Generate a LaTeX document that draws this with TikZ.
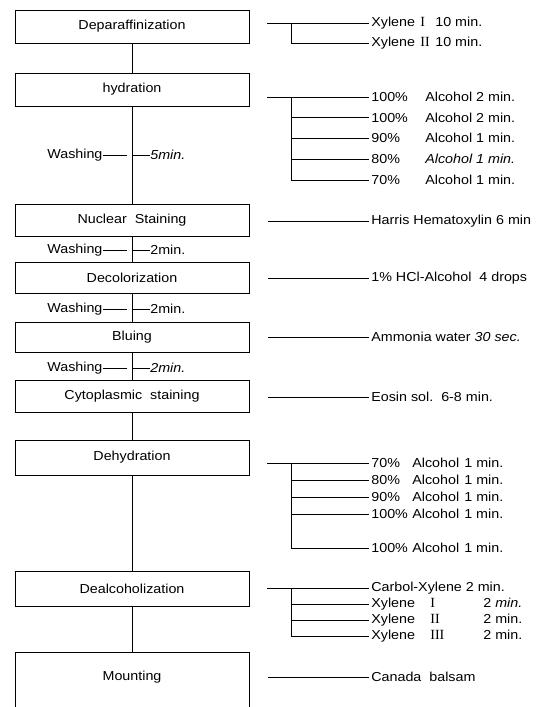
\documentclass[tikz,border=0pt]{standalone}
\usepackage{fontspec}
\setmainfont{Liberation Sans}[FakeStretch=1.1]
\newfontfamily\numfont{Liberation Serif}
\newcommand{\romI}{{\numfont\fontsize{14}{15}\selectfont I}}
\newcommand{\romII}{{\numfont\fontsize{14}{15}\selectfont II}}
\newcommand{\romIII}{{\numfont\fontsize{14}{15}\selectfont III}}
\begin{document}
\begin{tikzpicture}[x=1pt,y=-1pt, line width=0.7pt,
  box/.style={draw, minimum width=234pt, inner sep=0pt, font=\fontsize{13}{15}\selectfont},
  rtext/.style={anchor=west, inner xsep=2pt, inner ysep=0pt, font=\fontsize{13}{15}\selectfont},
  wtext/.style={inner sep=0pt, font=\fontsize{13}{15}\selectfont}]
\useasboundingbox (0,0) rectangle (548,707);

% main boxes
\node[box, minimum height=33pt] (dep) at (132,26.5) {Deparaffinization};
\node[box, minimum height=33pt] (hyd) at (132,89.5) {hydration};
\node[box, minimum height=32pt] (nuc) at (132,220) {Nuclear\ \ Staining};
\node[box, minimum height=31pt] (dec) at (132,277.5) {Decolorization};
\node[box, minimum height=30pt] (blu) at (132,337) {Bluing};
\node[box, minimum height=32pt] (cyt) at (132,396) {Cytoplasmic\ \ staining};
\node[box, minimum height=35pt] (deh) at (132,457.5) {Dehydration};
\node[box, minimum height=35pt] (dea) at (132,588.5) {Dealcoholization};
\node[box, minimum height=80pt, anchor=north] (mou) at (132,652) {};
\node[wtext] (moul) at (132,677) {Mounting};

% main flow
\draw (dep.south) -- (hyd.north);
\draw (hyd.south) -- (nuc.north);
\draw (nuc.south) -- (dec.north);
\draw (dec.south) -- (blu.north);
\draw (blu.south) -- (cyt.north);
\draw (cyt.south) -- (deh.north);
\draw (deh.south) -- (dea.north);
\draw (dea.south) -- (mou.north);

% washing steps
\foreach \n/\y/\t in {wa/155/\textit{5min.}, wb/250/2min., wc/309/2min., wd/368/\textit{2min.}}{
  \node[wtext, anchor=west] (\n l) at (47,\y) {Washing};
  \coordinate (\n g) at (127,\y);
  \coordinate (\n v) at (132,\y);
  \node[wtext, anchor=west] (\n r) at (150,\y) {\t};
  \draw (\n l.east) -- (\n g);
  \draw (\n v) -- (\n r.west);
}

% Deparaffinization
\node[rtext] (d1) at (369,23) {\makebox[49pt][l]{Xylene}\makebox[15pt][l]{\romI}10 min.};
\node[rtext] (d2) at (369,43) {\makebox[49pt][l]{Xylene}\makebox[15pt][l]{\romII}10 min.};
\coordinate (ds) at (267,23);
\coordinate (dj) at (291,23);
\draw (ds) -- (d1.west);
\draw (dj) |- (d2.west);

% hydration
\node[rtext] (h1) at (369,97) {\makebox[54pt][l]{100\%}Alcohol 2 min.};
\node[rtext] (h2) at (369,117.5) {\makebox[54pt][l]{100\%}Alcohol 2 min.};
\node[rtext] (h3) at (369,138) {\makebox[54pt][l]{90\%}Alcohol 1 min.};
\node[rtext] (h4) at (369,159) {\makebox[54pt][l]{80\%}\textit{Alcohol 1 min.}};
\node[rtext] (h5) at (369,180) {\makebox[54pt][l]{70\%}Alcohol 1 min.};
\coordinate (hs) at (267,97);
\coordinate (hj) at (291,97);
\draw (hs) -- (h1.west);
\draw (hj) |- (h5.west);
\foreach \r in {h2,h3,h4}{\draw (hj |- \r.west) -- (\r.west);}

% single steps
\node[rtext] (n1) at (369,221) {Harris Hematoxylin 6 min};
\coordinate (ns) at (268,221);
\draw (ns) -- (n1.west);
\node[rtext] (c1) at (369,278) {1\% HCl-Alcohol\ \ 4 drops};
\coordinate (cs) at (268,278);
\draw (cs) -- (c1.west);
\node[rtext] (b1) at (369,337) {Ammonia water \textit{30 sec.}};
\coordinate (bs) at (268,337);
\draw (bs) -- (b1.west);
\node[rtext] (e1) at (369,397) {Eosin sol.\ \ 6-8 min.};
\coordinate (es) at (268,397);
\draw (es) -- (e1.west);

% Dehydration
\node[rtext] (k1) at (369,463) {\makebox[41pt][l]{70\%}\makebox[52pt][l]{Alcohol}1 min.};
\node[rtext] (k2) at (369,480) {\makebox[41pt][l]{80\%}\makebox[52pt][l]{Alcohol}1 min.};
\node[rtext] (k3) at (369,497) {\makebox[41pt][l]{90\%}\makebox[52pt][l]{Alcohol}1 min.};
\node[rtext] (k4) at (369,514) {\makebox[41pt][l]{100\%}\makebox[52pt][l]{Alcohol}1 min.};
\node[rtext] (k5) at (369,548) {\makebox[41pt][l]{100\%}\makebox[52pt][l]{Alcohol}1 min.};
\coordinate (ks) at (267,463);
\coordinate (kj) at (291,463);
\draw (ks) -- (k1.west);
\draw (kj) |- (k5.west);
\foreach \r in {k2,k3,k4}{\draw (kj |- \r.west) -- (\r.west);}

% Dealcoholization
\node[rtext] (a1) at (369,588) {Carbol-Xylene 2 min.};
\node[rtext] (a2) at (369,604) {\makebox[59pt][l]{Xylene}\makebox[53pt][l]{\romI}2 \textit{min.}};
\node[rtext] (a3) at (369,620) {\makebox[59pt][l]{Xylene}\makebox[53pt][l]{\romII}2 min.};
\node[rtext] (a4) at (369,636) {\makebox[59pt][l]{Xylene}\makebox[53pt][l]{\romIII}2 min.};
\coordinate (as) at (267,588);
\coordinate (aj) at (291,588);
\draw (as) -- (a1.west);
\draw (aj) |- (a4.west);
\foreach \r in {a2,a3}{\draw (aj |- \r.west) -- (\r.west);}

% Mounting
\node[rtext] (m1) at (369,677) {Canada\ \ balsam};
\coordinate (ms) at (268,677);
\draw (ms) -- (m1.west);
\end{tikzpicture}
\end{document}
